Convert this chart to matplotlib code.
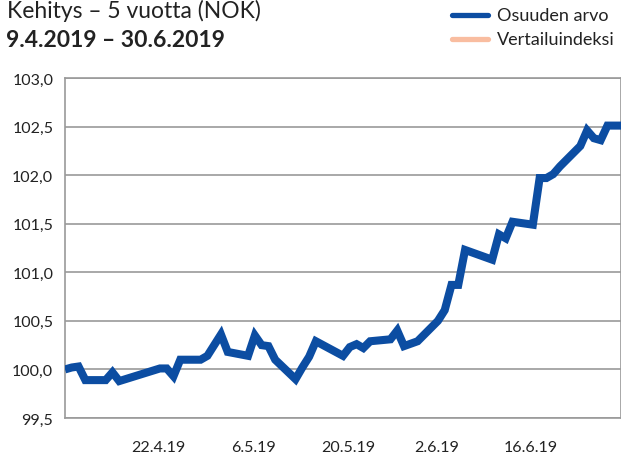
import matplotlib
matplotlib.use("Agg")
import matplotlib.pyplot as plt
from matplotlib.lines import Line2D
from matplotlib.transforms import ScaledTranslation
import datetime as dt

plt.rcParams['font.family'] = ['Lato', 'DejaVu Sans']

title_line1 = "Kehitys – 5 vuotta (NOK)"
title_line2 = "9.4.2019 – 30.6.2019"
series_names = ["Osuuden arvo", "Vertailuindeksi"]

dates = ["2019-04-09", "2019-04-10", "2019-04-11", "2019-04-12", "2019-04-15", "2019-04-16",
         "2019-04-17", "2019-04-23", "2019-04-24", "2019-04-25", "2019-04-26", "2019-04-29",
         "2019-04-30", "2019-05-02", "2019-05-03", "2019-05-06", "2019-05-07", "2019-05-08",
         "2019-05-09", "2019-05-10", "2019-05-13", "2019-05-14", "2019-05-15", "2019-05-16",
         "2019-05-20", "2019-05-21", "2019-05-22", "2019-05-23", "2019-05-24", "2019-05-27",
         "2019-05-28", "2019-05-29", "2019-05-31", "2019-06-03", "2019-06-04", "2019-06-05",
         "2019-06-06", "2019-06-07", "2019-06-11", "2019-06-12", "2019-06-13", "2019-06-14",
         "2019-06-17", "2019-06-18", "2019-06-19", "2019-06-20", "2019-06-21", "2019-06-24",
         "2019-06-25", "2019-06-26", "2019-06-27", "2019-06-28", "2019-06-30"]
fund_values = [100.00, 100.02, 100.03, 99.89, 99.89, 99.97,
               99.88, 100.01, 100.01, 99.93, 100.10, 100.10,
               100.14, 100.36, 100.18, 100.14, 100.35, 100.25,
               100.24, 100.10, 99.90, 100.02, 100.13, 100.29,
               100.14, 100.23, 100.26, 100.22, 100.29, 100.31,
               100.40, 100.24, 100.29, 100.50, 100.61, 100.87,
               100.87, 101.23, 101.13, 101.39, 101.35, 101.52,
               101.49, 101.97, 101.97, 102.01, 102.09, 102.30,
               102.46, 102.38, 102.36, 102.51, 102.51]

x_tick_dates = ["2019-04-22", "2019-05-06", "2019-05-20", "2019-06-02", "2019-06-16"]
x_tick_labels = ["22.4.19", "6.5.19", "20.5.19", "2.6.19", "16.6.19"]
y_ticks = [99.5, 100.0, 100.5, 101.0, 101.5, 102.0, 102.5, 103.0]
y_tick_labels = ["99,5", "100,0", "100,5", "101,0", "101,5", "102,0", "102,5", "103,0"]

fund_color = "#0c4da2"
index_color = "#f9bda0"
grid_color = "#9a9a9a"
text_color = "#222222"

fig = plt.figure(figsize=(6.21, 4.60), dpi=100)
ax = fig.add_axes([65/621, 41/460, 556/621, 340/460])

x = [dt.datetime.strptime(d, "%Y-%m-%d") for d in dates]
ax.plot(x, fund_values, color=fund_color, lw=5.8, solid_joinstyle='miter', solid_capstyle='butt', zorder=3)

ax.set_xlim(dt.datetime(2019, 4, 9), dt.datetime(2019, 6, 30))
ax.set_ylim(99.5, 103.0)
ax.set_yticks(y_ticks)
ax.set_yticklabels(y_tick_labels)
ax.set_xticks([dt.datetime.strptime(d, "%Y-%m-%d") for d in x_tick_dates])
ax.set_xticklabels(x_tick_labels)
ax.tick_params(axis='both', length=0, labelsize=11.5, colors=text_color)
ax.tick_params(axis='x', pad=16)
ax.tick_params(axis='y', pad=8.5)
shift = ScaledTranslation(5/100, 0, fig.dpi_scale_trans)
for lab in ax.get_xticklabels():
    lab.set_transform(lab.get_transform() + shift)
ax.yaxis.grid(True, color=grid_color, lw=1.2, zorder=1)
ax.set_axisbelow(True)
for s in ['left', 'bottom', 'top', 'right']:
    ax.spines[s].set_color(grid_color)
    ax.spines[s].set_linewidth(1.2)

fig.text(7/621, 1 - 17.5/460, title_line1, fontsize=16.5, color=text_color, va='baseline', ha='left')
fig.text(6/621, 1 - 47/460, title_line2, fontsize=16.5, fontweight='bold', color=text_color, va='baseline', ha='left')

for i, (name, col) in enumerate(zip(series_names, [fund_color, index_color])):
    yy = 1 - (16 + 24 * i) / 460
    fig.add_artist(Line2D([452/621, 488/621], [yy, yy], color=col, lw=3.8, solid_capstyle='round'))
    fig.text(497/621, yy, name, fontsize=13, color=text_color, va='center', ha='left')

fig.savefig("out.png", dpi=100)
